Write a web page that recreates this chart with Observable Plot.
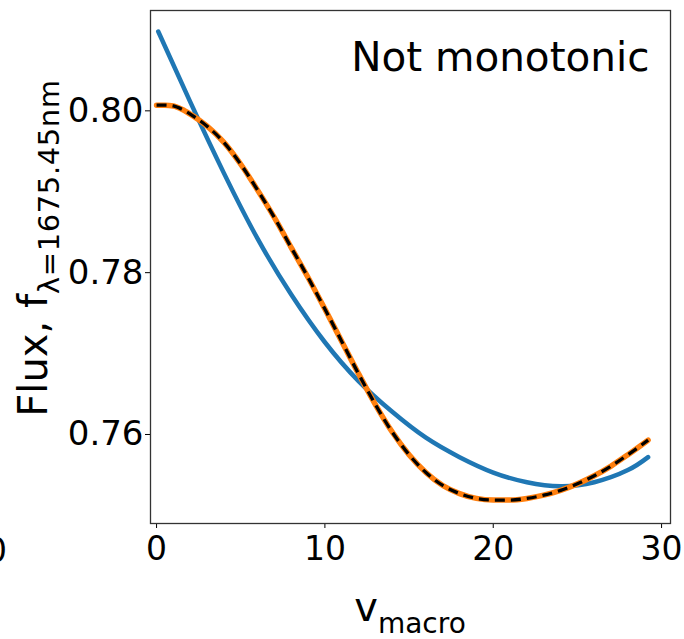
<!DOCTYPE html>
<html><head><meta charset="utf-8">
<script src="https://cdn.jsdelivr.net/npm/d3@7"></script>
<script src="https://cdn.jsdelivr.net/npm/@observablehq/plot@0.6"></script>
<style>
body{margin:0;background:#fff;}
#chart{position:relative;width:684px;height:639px;overflow:hidden;font-family:"DejaVu Sans",sans-serif;}
#cut{position:absolute;left:-14px;top:531px;font-size:33px;color:#000;font-family:"DejaVu Sans",sans-serif;}
</style>
</head><body><div id="chart"></div>
<script>
// blue: fitted curve
const vFit   = [0.1, 2, 4, 6, 8, 10, 12, 14, 16, 18, 20, 22, 24, 26, 28, 29.2];
const fluxFit = [0.8098, 0.8011, 0.7923, 0.7842, 0.7773, 0.7714, 0.7666, 0.7628, 0.7596, 0.7572, 0.7553, 0.7541, 0.7536, 0.7541, 0.7556, 0.7572];
// orange solid + black dashed: model
const vModel    = [0, 0.5, 1, 1.5, 2, 2.5, 3, 4, 5, 6, 7, 8, 9, 10, 11, 12, 13, 14, 15, 16, 17, 18, 19, 20, 21, 22, 23, 24, 25, 26, 27, 28, 29.2];
const fluxModel = [0.8007, 0.8007, 0.8006, 0.8002, 0.7996, 0.7989, 0.7981, 0.7961, 0.7934, 0.7902, 0.7868, 0.7831, 0.7794, 0.7755, 0.7715, 0.7675, 0.7637, 0.7603, 0.7575, 0.7553, 0.7537, 0.7527, 0.7521, 0.7519, 0.7519, 0.7521, 0.7525, 0.7531, 0.7539, 0.7549, 0.7561, 0.7575, 0.7593];
const xTicks = [0, 10, 20, 30];
const yTicks = [0.76, 0.78, 0.80];
const annotation = "Not monotonic";
const cutLabel = "0";

const fit = vFit.map((v, i) => ({v, f: fluxFit[i]}));
const model = vModel.map((v, i) => ({v, f: fluxModel[i]}));

const plot = Plot.plot({
  width: 684, height: 639,
  marginLeft: 150, marginRight: 14, marginTop: 10, marginBottom: 116,
  x: {domain: [-0.36, 30.53]},
  y: {domain: [0.7490, 0.8124]},
  style: {fontFamily: "DejaVu Sans", background: "#fff", color: "#000", overflow: "visible"},
  marks: [
    Plot.axisX({ticks: xTicks, tickSize: 5, tickPadding: 8, fontSize: 33, label: null, tickFormat: d => String(d), stroke: "#000"}),
    Plot.axisY({ticks: yTicks, tickSize: 5, tickPadding: 2, fontSize: 34, label: null, tickFormat: d3.format(".2f")}),
    Plot.line(fit, {x: "v", y: "f", stroke: "#1f77b4", strokeWidth: 4.5, curve: "natural"}),
    Plot.line(model, {x: "v", y: "f", stroke: "#ff7f0e", strokeWidth: 5.5, curve: "monotone-x"}),
    Plot.line(model, {x: "v", y: "f", stroke: "#000", strokeWidth: 3.3, strokeDasharray: "10,6", strokeLinecap: "butt", curve: "monotone-x"}),
    Plot.frame({stroke: "#333", strokeWidth: 1.3}),
    Plot.text([annotation], {frameAnchor: "top-right", textAnchor: "end", lineAnchor: "top", dx: -21, dy: 32, fontSize: 40.5, fill: "#000"})
  ]
});

const svg = d3.select(plot);
// x-axis label v_macro
const xl = svg.append("text").attr("x", 410).attr("y", 621).attr("text-anchor", "middle")
  .attr("font-family", "DejaVu Sans").attr("fill", "#000");
xl.append("tspan").attr("font-size", 40).text("v");
xl.append("tspan").attr("font-size", 28).attr("dy", 12).text("macro");
// y-axis label
const yl = svg.append("text").attr("transform", "translate(47,248) rotate(-90)").attr("text-anchor", "middle")
  .attr("font-family", "DejaVu Sans").attr("fill", "#000");
yl.append("tspan").attr("font-size", 40).text("Flux, f");
yl.append("tspan").attr("font-size", 29).attr("dy", 12).attr("letter-spacing", 0.6).text("λ=1675.45nm");

const chart = document.getElementById("chart");
chart.appendChild(plot);
const cut = document.createElement("div");
cut.id = "cut"; cut.textContent = cutLabel;
chart.appendChild(cut);
</script>
</body></html>
